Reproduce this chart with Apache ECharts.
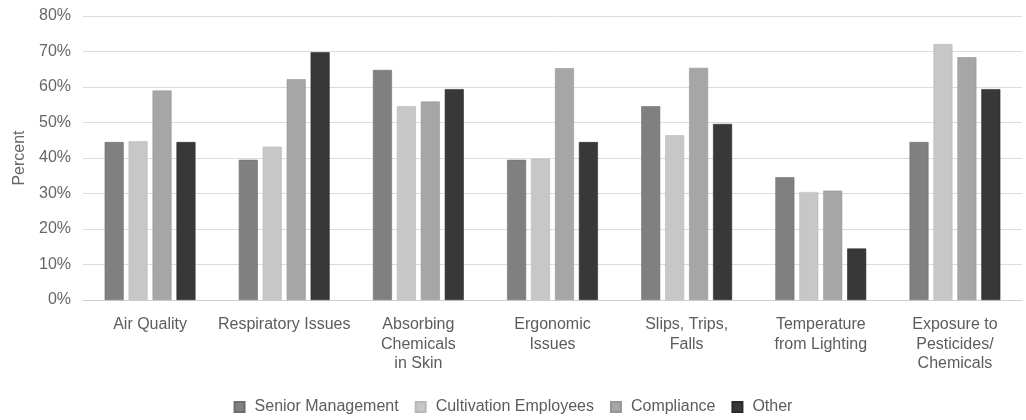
<!DOCTYPE html>
<html>
<head>
<meta charset="utf-8">
<script src="https://cdn.jsdelivr.net/npm/echarts@6/dist/echarts.min.js"></script>
<style>html,body{margin:0;padding:0;background:#fff;}#c{width:1026px;height:420px;}</style>
</head>
<body>
<div id="c"></div>
<script>
const categories = ["Air Quality", "Respiratory Issues", "Absorbing\nChemicals\nin Skin", "Ergonomic\nIssues", "Slips, Trips,\nFalls", "Temperature\nfrom Lighting", "Exposure to\nPesticides/\nChemicals"];
const seniorManagement = [44.5, 39.5, 64.8, 39.5, 54.6, 34.6, 44.5];
const cultivationEmployees = [44.7, 43.2, 54.6, 39.8, 46.4, 30.4, 72.1];
const compliance = [59.0, 62.2, 55.9, 65.3, 65.4, 30.8, 68.4];
const other = [44.5, 69.8, 59.4, 44.5, 49.6, 14.5, 59.4];
const yTicks = [0, 10, 20, 30, 40, 50, 60, 70, 80];

const font = "'Liberation Sans', Helvetica, Arial, sans-serif";
const mk = (name, data, color, border) => ({
  name, type: 'bar', data, barWidth: 19, barGap: '26%',
  itemStyle: { color, borderColor: border, borderWidth: 0.6 }
});
const chart = echarts.init(document.getElementById('c'), null, { renderer: 'canvas' });
chart.setOption({
  animation: false,
  textStyle: { fontFamily: font },
  grid: { left: 83, right: 4, top: 16, bottom: 120 },
  legend: {
    top: 394, left: 'center', itemWidth: 10, itemHeight: 10, itemGap: 16,
    icon: 'rect',
    textStyle: { color: '#5c5c5c', fontSize: 16, fontFamily: font, padding: [0, 0, 0, 5] }
  },
  xAxis: {
    type: 'category', data: categories,
    axisLine: { lineStyle: { color: '#d0d0d0', width: 1 } },
    axisTick: { show: false },
    axisLabel: { color: '#5c5c5c', fontSize: 16, lineHeight: 19.5, margin: 15, interval: 0, fontFamily: font }
  },
  yAxis: {
    type: 'value', min: yTicks[0], max: yTicks[yTicks.length - 1], interval: 10,
    name: 'Percent', nameLocation: 'middle', nameGap: 53, nameRotate: 90,
    nameTextStyle: { color: '#666', fontSize: 16, fontFamily: font },
    axisLine: { show: false }, axisTick: { show: false },
    axisLabel: { color: '#666', fontSize: 16, margin: 12, formatter: v => v + '%', fontFamily: font },
    splitLine: { lineStyle: { color: '#dcdcdc', width: 1 } }
  },
  series: [
    mk('Senior Management', seniorManagement, '#808080', '#6e6e6e'),
    mk('Cultivation Employees', cultivationEmployees, '#c7c7c7', '#b8b8b8'),
    mk('Compliance', compliance, '#a6a6a6', '#969696'),
    mk('Other', other, '#383838', '#2a2a2a')
  ]
});
</script>
</body>
</html>
